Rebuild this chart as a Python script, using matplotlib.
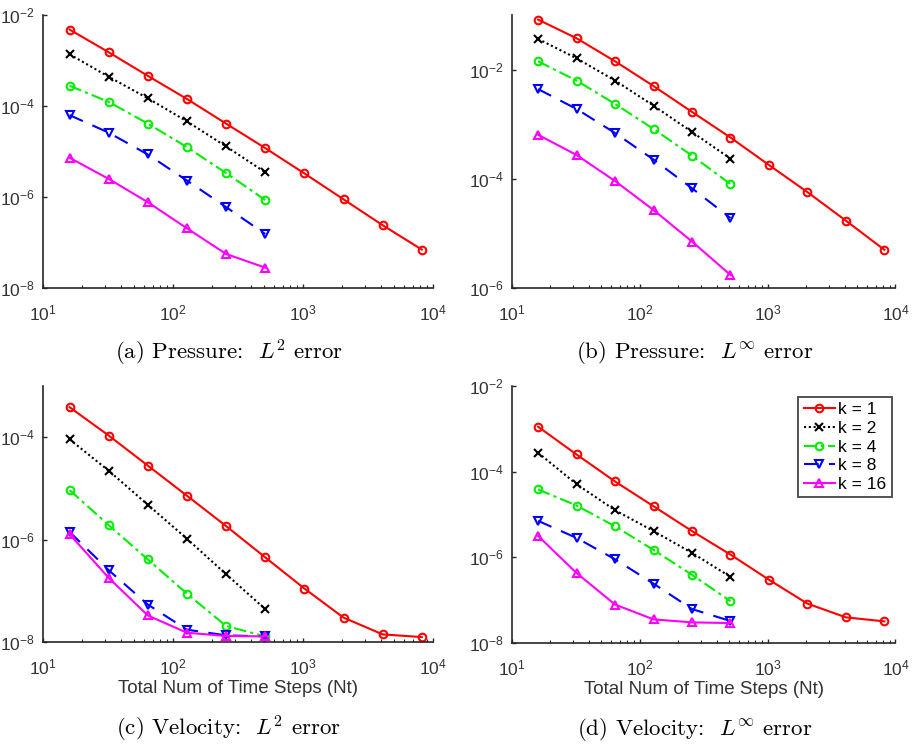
import numpy as np
import matplotlib
matplotlib.use("Agg")
import matplotlib.pyplot as plt
from matplotlib.ticker import LogLocator, NullFormatter, NullLocator

plt.rcParams['font.family'] = ['Liberation Sans', 'DejaVu Sans']
plt.rcParams['mathtext.fontset'] = 'custom'
plt.rcParams['mathtext.rm'] = 'Liberation Sans'
plt.rcParams['mathtext.it'] = 'Liberation Sans:italic'

# Time steps
nt_long = [16, 32, 64, 128, 256, 512, 1024, 2048, 4096, 8192]
nt_short = [16, 32, 64, 128, 256, 512]

k_labels = ['k = 1', 'k = 2', 'k = 4', 'k = 8', 'k = 16']

# (a) Pressure L2 error
p_l2_k1 = [4.8e-3, 1.52e-3, 4.6e-4, 1.43e-4, 4.1e-5, 1.19e-5, 3.3e-6, 8.9e-7, 2.4e-7, 7.0e-8]
p_l2_k2 = [1.37e-3, 4.4e-4, 1.48e-4, 4.6e-5, 1.29e-5, 3.5e-6]
p_l2_k4 = [2.8e-4, 1.23e-4, 4.1e-5, 1.25e-5, 3.35e-6, 8.6e-7]
p_l2_k8 = [6.3e-5, 2.6e-5, 8.6e-6, 2.3e-6, 6.0e-7, 1.54e-7]
p_l2_k16 = [7.3e-6, 2.5e-6, 7.7e-7, 2.05e-7, 5.6e-8, 2.8e-8]

# (b) Pressure Linf error
p_li_k1 = [0.0824, 0.0375, 0.0142, 5.0e-3, 1.68e-3, 5.7e-4, 1.79e-4, 5.7e-5, 1.71e-5, 5.0e-6]
p_li_k2 = [0.0365, 0.0161, 6.3e-3, 2.19e-3, 7.2e-4, 2.34e-4]
p_li_k4 = [0.0142, 6.3e-3, 2.35e-3, 8.2e-4, 2.65e-4, 8.0e-5]
p_li_k8 = [4.4e-3, 1.9e-3, 6.9e-4, 2.25e-4, 6.7e-5, 1.91e-5]
p_li_k16 = [6.4e-4, 2.73e-4, 9.1e-5, 2.68e-5, 7.1e-6, 1.73e-6]

# (c) Velocity L2 error
v_l2_k1 = [3.86e-4, 1.08e-4, 2.79e-5, 7.2e-6, 1.84e-6, 4.5e-7, 1.11e-7, 3.0e-8, 1.41e-8, 1.25e-8]
v_l2_k2 = [9.1e-5, 2.22e-5, 4.8e-6, 1.04e-6, 2.11e-7, 4.4e-8]
v_l2_k4 = [9.3e-6, 1.92e-6, 4.1e-7, 8.8e-8, 2.06e-8, 1.29e-8]
v_l2_k8 = [1.42e-6, 2.53e-7, 5.4e-8, 1.74e-8, 1.35e-8, 1.29e-8]
v_l2_k16 = [1.28e-6, 1.79e-7, 3.3e-8, 1.52e-8, 1.31e-8, 1.29e-8]

# (d) Velocity Linf error
v_li_k1 = [1.12e-3, 2.52e-4, 5.9e-5, 1.56e-5, 4.1e-6, 1.16e-6, 3.0e-7, 8.3e-8, 3.97e-8, 3.2e-8]
v_li_k2 = [2.76e-4, 5.1e-5, 1.26e-5, 4.1e-6, 1.27e-6, 3.5e-7]
v_li_k4 = [3.84e-5, 1.62e-5, 5.3e-6, 1.49e-6, 3.9e-7, 9.5e-8]
v_li_k8 = [7.1e-6, 2.84e-6, 9.0e-7, 2.43e-7, 6.2e-8, 3.26e-8]
v_li_k16 = [3.16e-6, 4.3e-7, 7.9e-8, 3.56e-8, 3.03e-8, 2.92e-8]

styles = [
    dict(color='#ff0000', ls='-', marker='o'),
    dict(color='#000000', ls=(0, (1, 1.3)), marker='x'),
    dict(color='#00ee00', ls=(0, (6, 2, 1.5, 2)), marker='o'),
    dict(color='#0000ff', ls=(0, (7, 5)), marker='v'),
    dict(color='#ff00ff', ls='-', marker='^'),
]

panels = [
    ([0.0471, 0.6165, 0.4272, 0.3635], (1e-8, 1e-2), [1e-8, 1e-6, 1e-4, 1e-2],
     [p_l2_k1, p_l2_k2, p_l2_k4, p_l2_k8, p_l2_k16], None),
    ([0.5608, 0.6165, 0.4200, 0.3635], (1e-6, 1e-1), [1e-6, 1e-4, 1e-2],
     [p_li_k1, p_li_k2, p_li_k4, p_li_k8, p_li_k16], None),
    ([0.0471, 0.1451, 0.4272, 0.3409], (1e-8, 1e-3), [1e-8, 1e-6, 1e-4],
     [v_l2_k1, v_l2_k2, v_l2_k4, v_l2_k8, v_l2_k16], 'Total Num of Time Steps (Nt)'),
    ([0.5608, 0.1438, 0.4200, 0.3422], (1e-8, 1e-2), [1e-8, 1e-6, 1e-4, 1e-2],
     [v_li_k1, v_li_k2, v_li_k4, v_li_k8, v_li_k16], 'Total Num of Time Steps (Nt)'),
]

captions = [r'(a) Pressure:  $L^2$ error', r'(b) Pressure:  $L^\infty$ error',
            r'(c) Velocity:  $L^2$ error', r'(d) Velocity:  $L^\infty$ error']
caption_y = [0.530, 0.530, 0.029, 0.029]

fig = plt.figure(figsize=(9.13, 7.51), dpi=100)
axes = []
for (rect, ylim, yticks, series, xlabel) in panels:
    ax = fig.add_axes(rect)
    for i, (vals, st) in enumerate(zip(series, styles)):
        xs = nt_long if i == 0 else nt_short
        ax.plot(xs, vals, color=st['color'], linestyle=st['ls'], marker=st['marker'],
                markersize=5.5, markerfacecolor='none', markeredgewidth=1.5,
                linewidth=1.5, label=k_labels[i])
    ax.set_xscale('log')
    ax.set_yscale('log')
    ax.set_xlim(10, 1e4)
    ax.set_ylim(*ylim)
    ax.set_xticks([10, 100, 1000, 10000])
    ax.xaxis.set_minor_locator(LogLocator(base=10, subs=np.arange(2, 10)))
    ax.xaxis.set_minor_formatter(NullFormatter())
    ax.set_yticks(yticks)
    ax.yaxis.set_minor_locator(NullLocator())
    for side in ['top', 'right']:
        ax.spines[side].set_visible(False)
    for side in ['left', 'bottom']:
        ax.spines[side].set_color('#262626')
        ax.spines[side].set_linewidth(1.2)
    ax.tick_params(which='major', direction='in', length=3, width=1, colors='#262626',
                   labelsize=12.5, labelcolor='#333333', pad=6)
    ax.tick_params(axis='x', which='major', pad=11)
    ax.tick_params(which='minor', direction='in', length=2, width=0.8, colors='#262626')
    if xlabel:
        ax.set_xlabel(xlabel, fontsize=13.5, color='#333333', labelpad=2)
    axes.append(ax)

leg = axes[3].legend(loc='upper right', fontsize=12.5, frameon=True, fancybox=False,
                     edgecolor='#262626', handlelength=1.8, handletextpad=0.2,
                     borderpad=0.3, borderaxespad=0.0, labelspacing=0.2,
                     bbox_to_anchor=(0.99, 0.957))
leg.get_frame().set_linewidth(1.4)

for ax, cap, cy in zip(axes, captions, caption_y):
    pos = ax.get_position()
    fig.text((pos.x0 + pos.x1) / 2 - 0.01, cy, cap, ha='center', va='center', fontsize=16.5,
             family='cmr10', math_fontfamily='cm')

fig.savefig('out.png', dpi=100)
